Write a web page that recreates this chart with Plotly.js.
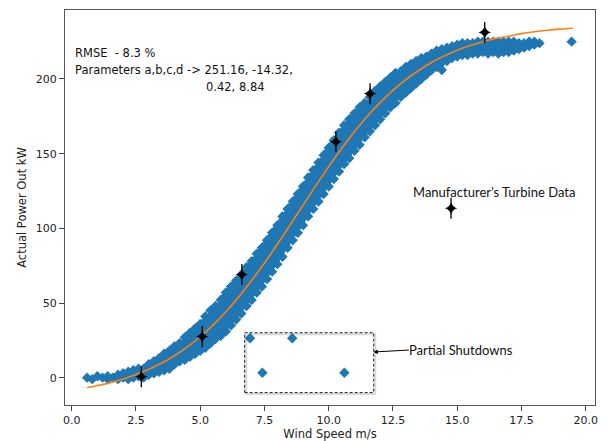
<!DOCTYPE html>
<html>
<head>
<meta charset="utf-8">
<script src="https://cdn.plot.ly/plotly-3.0.1.min.js"></script>
<style>html,body{margin:0;padding:0;background:#fff;}#chart{width:608px;height:441px;}</style>
</head>
<body>
<div id="chart"></div>
<script>
// Observed turbine output: wind speed columns and the power readings in each column
const cloudWind = [0.6,0.8,1.0,1.2,1.4,1.6,1.8,2.0,2.2,2.4,2.6,2.8,
  3.0,3.2,3.4,3.6,3.8,4.0,4.2,4.4,4.6,4.8,5.0,5.2,5.4,5.6,5.8,
  6.0,6.2,6.4,6.6,6.8,7.0,7.2,7.4,7.6,7.8,8.0,8.2,8.4,8.6,8.8,
  9.0,9.2,9.4,9.6,9.8,10.0,10.2,10.4,10.6,10.8,11.0,11.2,11.4,11.6,11.8,
  12.0,12.2,12.4,12.6,12.8,13.0,13.2,13.4,13.6,13.8,14.0,14.2,14.4,14.6,14.8,
  15.0,15.2,15.4,15.6,15.8,16.0,16.2,16.4,16.6,16.8,17.0,17.2,17.4,17.6,17.8,18.0,18.2];
const cloudPower = [
  [0],[-1],[1],[0],[-1,1],[0],[-1,2],[0,3],[-1,4],[0,5],[1,6],[0,6],
  [2,9],[3,8,11],[4,9,13],[5,11,16],[6,12,18],[9,15,21],[11,17,23],[12,18,24,27],[14,20,26,30],[16,22,28,33],
  [18,24,30,36],[20,26,32,38,41],[23,29,35,41,45],[26,32,38,44,48],[28,34,40,46,52],
  [31,37,43,49,55,57],[35,41,47,53,59,61],[39,45,51,57,63,65],[43,49,55,61,67,69],[48,54,60,66,72,74],
  [52,58,64,70,76,78],[57,63,69,75,80,83],[61,67,73,79,85,87],[66,72,78,84,90,92],[71,77,83,89,95,97],
  [76,82,88,94,100,102],[81,87,93,99,105,108],[87,93,99,105,110,113],[92,98,104,110,116,118],[97,103,109,115,121,123],
  [102,108,114,120,126,128],[108,114,120,126,131,134],[113,119,125,131,136,139],[118,124,130,136,141,144],[123,129,135,141,146,149],
  [128,134,140,146,152,154],[133,139,145,151,157,159],[138,144,150,156,161,164],[143,149,155,161,166,169],[147,153,159,165,170,173],
  [152,158,164,170,175,177],[156,162,168,174,179,181],[161,167,173,179,184],[165,171,177,183,188],[169,175,181,187,192],
  [173,179,185,191,195],[177,183,189,194,198],[181,187,193,198,201],[184,190,196,201,204],[188,194,200,205],
  [191,197,203,208],[194,200,206,210],[197,203,209,212],[200,206,211,214],[203,209,215],
  [206,212,217],[208,214,219],[206,212,217,220],[212,217,221],[214,218,222],
  [215,219,223],[216,220,224],[216,221,224],[217,221,224],[217,221,225],[218,222,225],[217,221,225],
  [218,222,225],[217,221,225],[218,222,225],[218,222,225],[219,222,225],[220,224],[221,224],[222,225],[223,225],[224]
];
// isolated high-wind reading
const farWind = [19.45];
const farPower = [225];
// Partial shutdown readings
const shutdownWind = [6.94, 8.58, 7.42, 10.61];
const shutdownPower = [26.4, 26.4, 3.3, 3.3];
// Manufacturer's turbine data
const mfrWind = [2.71, 5.08, 6.62, 10.28, 11.61, 16.07];
const mfrPower = [0.6, 27.6, 69.1, 158, 190.2, 231.2];
// key marker beside the "Manufacturer's Turbine Data" label
const keyWind = [14.76];
const keyPower = [113.4];
// fitted curve
const fitWind = [0.6,1.0,1.5,2.0,2.5,3.0,3.5,4.0,4.5,5.0,5.5,6.0,6.5,7.0,7.5,8.0,8.5,9.0,9.5,10.0,10.5,11.0,11.5,12.0,12.5,13.0,13.5,14.0,14.5,15.0,15.5,16.0,16.5,17.0,17.5,18.0,18.5,19.0,19.5];
const fitPower = [-6.7,-5.3,-3.3,-0.9,2.1,5.6,9.8,14.7,20.6,27.4,35.2,44.1,54.1,65.0,76.8,89.3,102.3,115.5,128.6,141.3,153.4,164.6,175.0,184.2,192.4,199.6,205.7,211.0,215.5,219.3,222.4,225.0,227.2,228.6,230.4,231.6,232.6,233.4,234.0];
const xTicks = [0, 2.5, 5, 7.5, 10, 12.5, 15, 17.5, 20];
const xTickText = ['0.0','2.5','5.0','7.5','10.0','12.5','15.0','17.5','20.0'];
const yTicks = [0, 50, 100, 150, 200];

const obsX = [], obsY = [];
cloudWind.forEach((w, i) => cloudPower[i].forEach(p => { obsX.push(w); obsY.push(p); }));
farWind.forEach((w, i) => { obsX.push(w); obsY.push(farPower[i]); });
// the dense body of the cloud: spread of the readings in each column
const colMin = cloudPower.map(c => Math.min(...c));
const colMax = cloudPower.map(c => Math.max(...c));

const blue = '#1f77b4';
const traces = [
  {x: cloudWind, y: colMin, mode: 'lines', type: 'scatter', line: {width: 0, color: blue}, hoverinfo: 'skip'},
  {x: cloudWind, y: colMax, mode: 'lines', type: 'scatter', line: {width: 0, color: blue},
   fill: 'tonexty', fillcolor: blue, hoverinfo: 'skip'},
  {x: obsX, y: obsY, mode: 'markers', type: 'scatter',
   marker: {symbol: 'diamond', size: 8, color: blue}, hoverinfo: 'skip'},
  {x: shutdownWind, y: shutdownPower, mode: 'markers', type: 'scatter',
   marker: {symbol: 'diamond', size: 8, color: blue}},
  {x: fitWind, y: fitPower, mode: 'lines', type: 'scatter',
   line: {color: '#ff7f0e', width: 1.6, shape: 'spline'}},
  {x: mfrWind.concat(keyWind), y: mfrPower.concat(keyPower), mode: 'markers', type: 'scatter',
   marker: {symbol: 'line-ns', size: 15, line: {color: '#000', width: 1.3}}},
  {x: mfrWind.concat(keyWind), y: mfrPower.concat(keyPower), mode: 'markers', type: 'scatter',
   marker: {symbol: 'star-diamond', size: 9, color: '#000'}}
];

const txtFont = {family: 'DejaVu Sans', size: 11.5, color: '#111'};
const calFont = {family: 'Lato', size: 13, color: '#111'};
const layout = {
  width: 608, height: 441,
  margin: {l: 65, r: 13, t: 10, b: 36},
  paper_bgcolor: '#fff', plot_bgcolor: '#fff',
  showlegend: false,
  font: {family: 'DejaVu Sans', size: 11, color: '#222'},
  xaxis: {range: [-0.26, 20.36], tickvals: xTicks, ticktext: xTickText,
    ticks: 'outside', ticklen: 5, tickcolor: '#444', showgrid: false, zeroline: false,
    showline: true, mirror: true, linecolor: '#555', linewidth: 1,
    tickfont: {family: 'DejaVu Sans', size: 11, color: '#222'},
    title: {text: 'Wind Speed m/s', font: {family: 'DejaVu Sans', size: 11.5, color: '#222'}, standoff: 5}},
  yaxis: {range: [-18.3, 246.2], tickvals: yTicks,
    ticks: 'outside', ticklen: 5, tickcolor: '#444', showgrid: false, zeroline: false,
    showline: true, mirror: true, linecolor: '#555', linewidth: 1,
    tickfont: {family: 'DejaVu Sans', size: 11, color: '#222'},
    title: {text: 'Actual Power Out kW', font: {family: 'DejaVu Sans', size: 11.5, color: '#222'}, standoff: 6}},
  shapes: [
    {type: 'rect', xref: 'x', yref: 'y', x0: 6.79, x1: 11.81, y0: -11, y1: 29.1,
     line: {color: 'rgba(0,0,0,0.15)', width: 2}},
    {type: 'rect', xref: 'x', yref: 'y', x0: 6.73, x1: 11.75, y0: -10, y1: 30.1,
     line: {color: '#222', width: 1, dash: '3px,2px'}}
  ],
  annotations: [
    {xref: 'paper', yref: 'paper', x: 0.0145, y: 0.8919, xanchor: 'left', yanchor: 'middle',
     text: 'RMSE  - 8.3 %', showarrow: false, font: txtFont},
    {xref: 'paper', yref: 'paper', x: 0.0145, y: 0.8481, xanchor: 'left', yanchor: 'middle',
     text: 'Parameters a,b,c,d -&gt; 251.16, -14.32,', showarrow: false, font: txtFont},
    {xref: 'paper', yref: 'paper', x: 0.263, y: 0.8043, xanchor: 'left', yanchor: 'middle',
     text: '0.42, 8.84', showarrow: false, font: txtFont},
    {xref: 'paper', yref: 'paper', x: 0.6520, y: 0.54, xanchor: 'left', yanchor: 'middle',
     text: 'Manufacturer\u2019s Turbine Data', showarrow: false, font: calFont},
    {xref: 'paper', yref: 'paper', x: 0.6445, y: 0.1392, xanchor: 'left', yanchor: 'middle',
     text: 'Partial Shutdowns', showarrow: false, font: calFont},
    {xref: 'paper', yref: 'paper', x: 0.5817, y: 0.1342, ax: 37, ay: -2, text: '',
     showarrow: true, arrowhead: 2, arrowsize: 0.9, arrowwidth: 1, arrowcolor: '#000'}
  ]
};
Plotly.newPlot('chart', traces, layout, {displayModeBar: false, staticPlot: true});
</script>
</body>
</html>
